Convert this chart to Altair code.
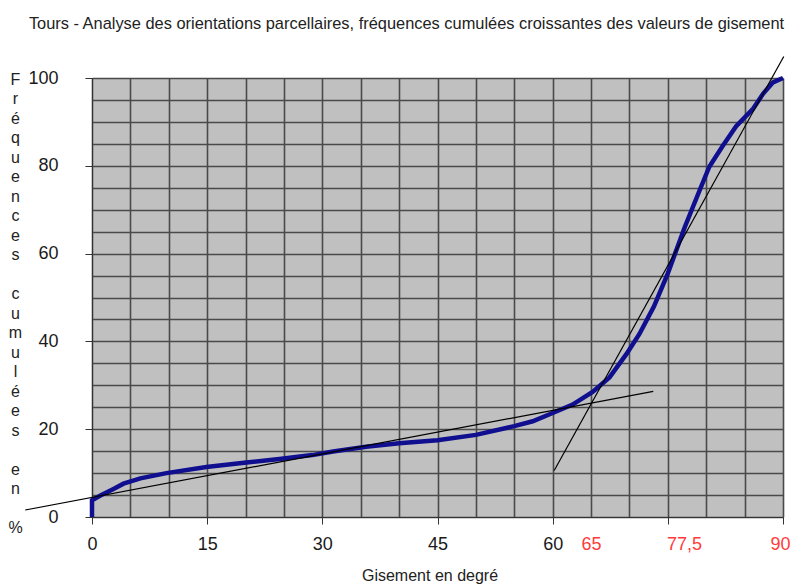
import altair as alt
import pandas as pd

# Cumulative frequency curve (gisement in degrees, cumulative % )
gisement = [0, 0, 1.1, 2.8, 4.1, 6.3, 9.7, 14.9, 20.1, 24.4, 28.7, 31.4, 35.7, 40, 45, 50,
            55, 57.4, 60, 62.6, 65.2, 67.4, 69.6, 71.3, 73.2, 75.0, 77.2, 79, 80.4, 82.1,
            83.9, 86.1, 87.4, 88.7, 90]
frequence = [0, 3.8, 4.9, 6.4, 7.6, 8.8, 10.0, 11.4, 12.4, 13.2, 14.1, 14.9, 16.0, 16.8, 17.5,
             18.7, 20.7, 21.8, 23.7, 25.6, 28.5, 31.8, 37.1, 41.7, 48, 55.5, 66, 73.8, 79.8,
             84.4, 89, 93, 96.4, 99, 100]

# Two fitted straight lines
droite_basse_x = [-8.7, 73.1]
droite_basse_y = [1.6, 28.6]
droite_haute_x = [60.2, 90.1]
droite_haute_y = [10.6, 104.9]

# Axis values
x_values = [0, 5, 10, 15, 20, 25, 30, 35, 40, 45, 50, 55, 60, 65, 70, 75, 77.5, 80, 85, 90]
y_values = [0, 5, 10, 15, 20, 25, 30, 35, 40, 45, 50, 55, 60, 65, 70, 75, 80, 85, 90, 95, 100]

titre = "Tours - Analyse des orientations parcellaires, fréquences cumulées croissantes des valeurs de gisement"
titre_x = "Gisement en degré"
titre_y = "Fréquences cumulées en %"

n = len(gisement)
data = pd.DataFrame({
    "x": gisement + droite_basse_x + droite_haute_x,
    "y": frequence + droite_basse_y + droite_haute_y,
    "serie": ["courbe"] * n + ["basse", "basse", "haute", "haute"],
    "ordre": list(range(n + 4)),
})

FONT = "Liberation Sans"
GRID = "#4a4a4a"

x_scale = alt.Scale(domain=[0, 90], nice=False, zero=False)
y_scale = alt.Scale(domain=[0, 100], nice=False, zero=False)

x_axis = alt.Axis(
    values=x_values,
    title=titre_x,
    grid=True,
    gridColor=GRID,
    gridWidth=1.6,
    gridOpacity={"condition": {"test": "datum.value == 77.5", "value": 0}, "value": 1},
    labelExpr="datum.value == 77.5 ? '77,5' : (datum.value == 65 ? '65' : ((datum.value % 15 == 0 && datum.value != 75) ? datum.label : ''))",
    labelColor={"condition": {"test": "datum.value >= 65", "value": "#ff3b3b"}, "value": "#1a1a1a"},
    labelOffset={"condition": {"test": "datum.value >= 77.5", "value": -3}, "value": 0},
    tickOpacity={"condition": {"test": "datum.value % 15 == 0", "value": 1}, "value": 0},
    tickSize=7,
    tickColor="#333333",
    labelOverlap=False,
    labelFlush=False,
    labelBound=False,
    labelFont=FONT,
    labelFontSize=18,
    labelBaseline="middle",
    labelPadding=20,
    domain=True,
    domainColor="#333333",
    titleFont=FONT,
    titleFontSize=16,
    titleFontWeight="normal",
    titleColor="#222222",
    titleBaseline="middle",
    titleX=337.5,
    titleY=58,
)

# one letter per line; blank lines kept with a zero-width space
y_title_lines = [c if c != " " else "\u200b" for c in titre_y]

y_axis = alt.Axis(
    values=y_values,
    title=y_title_lines,
    grid=True,
    gridColor=GRID,
    gridWidth=1.6,
    labelExpr="datum.value % 20 == 0 ? datum.label : ''",
    tickOpacity={"condition": {"test": "datum.value % 20 == 0", "value": 1}, "value": 0},
    tickSize=7,
    tickColor="#333333",
    labelOverlap=False,
    labelFlush=False,
    labelBound=False,
    labelFont=FONT,
    labelFontSize=18,
    labelColor="#1a1a1a",
    labelPadding=27,
    domain=True,
    domainColor="#333333",
    titleFont=FONT,
    titleFontSize=16,
    titleFontWeight="normal",
    titleColor="#222222",
    titleAngle=0,
    titleAlign="center",
    titleBaseline="middle",
    titleLineHeight=19.5,
    titleX=-77,
    titleY=1,
)

base = alt.Chart(data).encode(
    x=alt.X("x:Q", scale=x_scale, axis=x_axis),
    y=alt.Y("y:Q", scale=y_scale, axis=y_axis),
    order="ordre:Q",
    detail="serie:N",
)

courbe = base.transform_filter("datum.serie == 'courbe'").mark_line(
    color="#0f0f8f", strokeWidth=4.5, clip=False
)
droites = base.transform_filter("datum.serie != 'courbe'").mark_line(
    color="black", strokeWidth=1.2, clip=False
)

chart = alt.layer(courbe, droites).properties(
    width=691,
    height=439,
    autosize=alt.AutoSizeParams(type="none"),
    padding={"left": 84, "top": 70, "right": 7, "bottom": 70},
    title=alt.TitleParams(
        text=titre,
        font="Liberation Sans Narrow, Arial Narrow, Liberation Sans",
        fontSize=16.4,
        fontWeight="normal",
        color="#222222",
        anchor="middle",
        frame="group",
        baseline="middle",
        offset=0,
        dx=-31,
        dy=-14,
    ),
).configure_view(fill="#c0c0c0", strokeWidth=0)

chart.save("out.html", embed_options={"renderer": "svg", "actions": False})
